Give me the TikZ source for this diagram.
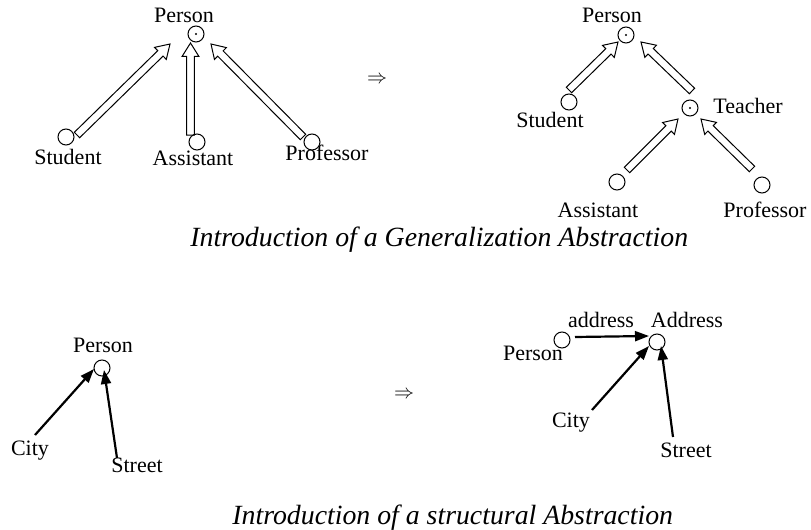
\documentclass[tikz,border=0pt]{standalone}
\usepackage{fontspec}
\setmainfont{Liberation Serif}
\usetikzlibrary{calc,arrows.meta}
\begin{document}
\begin{tikzpicture}[x=0.5pt,y=-0.5pt,
  lbl/.style={font=\fontsize{11}{13}\selectfont, inner sep=0pt, anchor=base},
  capt/.style={font=\fontsize{13.9}{16}\selectfont\itshape, inner sep=0pt, anchor=base west},
  cls/.style={circle, draw, line width=0.5pt, minimum size=8pt, inner sep=0pt},
  agg/.style={cls, path picture={\fill (path picture bounding box.center) circle (0.6pt);}},
  % hollow generalization arrow: closed outline of a shaft with a triangular head
  gen/.style={draw, line width=0.5pt, line join=miter, to path={
    let \p1=(\tikztostart), \p2=(\tikztotarget), \p3=($(\p2)!6.7pt!(\p1)$) in
    ($(\p1)!1.9pt!90:(\p2)$) -- ($(\p3)!1.9pt!90:(\p2)$) -- ($(\p3)!4.2pt!90:(\p2)$)
    -- (\p2) -- ($(\p3)!4.2pt!-90:(\p2)$) -- ($(\p3)!1.9pt!-90:(\p2)$)
    -- ($(\p1)!1.9pt!-90:(\p2)$) -- cycle}},
  att/.style={line width=1.1pt, -{Triangle[length=7pt,width=5pt]}},
  impl/.style={font=\fontsize{10}{12}\selectfont, inner sep=0pt},
]
\useasboundingbox (0,0) rectangle (811,530);

% ---- generalization, before ----
\node[agg] (p1) at (196,34) {};
\node[cls] (s1) at (66,137) {};
\node[cls] (a1) at (197,142) {};
\node[cls] (r1) at (312,142) {};
\node[lbl] (lp1) at (184,23) {Person};
\node[lbl] (ls1) at (68,164) {Student};
\node[lbl] (la1) at (193,165) {Assistant};
\node[lbl] (lr1) at (327,161) {Professor};
\draw[gen] ([shift={(11,-2)}]s1.center) to ([shift={(-26,10)}]p1.center);
\draw[gen] ([shift={(-6.5,-7)}]a1.center) to ([shift={(-5.5,9)}]p1.center);
\draw[gen] ([shift={(-9,-5)}]r1.center) to ([shift={(15,10)}]p1.center);

\node[impl] (i1) at (377,80) {$\Rightarrow$};

% ---- generalization, after ----
\node[agg] (p2) at (626,35) {};
\node[cls] (s2) at (569,102) {};
\node[agg] (t2) at (690,108) {};
\node[cls] (a2) at (617,182) {};
\node[cls] (r2) at (762,185) {};
\node[lbl] (lp2) at (612,23) {Person};
\node[lbl] (ls2) at (550,127) {Student};
\node[lbl] (lt2) at (748,113) {Teacher};
\node[lbl] (la2) at (598,218) {Assistant};
\node[lbl] (lr2) at (765,218) {Professor};
\draw[gen] ([shift={(0,-12)}]s2.center) to ([shift={(-8,7)}]p2.center);
\draw[gen] ([shift={(2,-17)}]t2.center) to ([shift={(15,7)}]p2.center);
\draw[gen] ([shift={(10,-12)}]a2.center) to ([shift={(-12,11)}]t2.center);
\draw[gen] ([shift={(-10,-16)}]r2.center) to ([shift={(11,11)}]t2.center);

\node[capt] (c1) at (190,247) {Introduction of a Generalization Abstraction};

% ---- structure, before ----
\node[cls] (p3) at (102,368) {};
\node[lbl] (lp3) at (103,352) {Person};
\node[lbl] (lc3) at (30,455) {City};
\node[lbl] (ls3) at (137,473) {Street};
\draw[att] ([shift={(5,-20)}]lc3.base) -- ([shift={(-8,1)}]p3.center);
\draw[att] ([shift={(-20,-15)}]ls3.base) -- ([shift={(2,2)}]p3.center);

\node[impl] (i2) at (404,395) {$\Rightarrow$};

% ---- structure, after ----
\node[cls] (p4) at (562,340) {};
\node[cls] (ad) at (657,342) {};
\node[lbl] (lp4) at (533,360) {Person};
\node[lbl] (lad) at (687,328) {Address};
\node[lbl] (lrel) at (601,328) {address};
\node[lbl] (lc4) at (571,428) {City};
\node[lbl] (ls4) at (686,458) {Street};
\draw[att] ([shift={(13,-3)}]p4.center) -- ([shift={(-8,-6)}]ad.center);
\draw[att] ([shift={(21,-18)}]lc4.base) -- ([shift={(-8,4)}]ad.center);
\draw[att] ([shift={(-13,-21)}]ls4.base) -- ([shift={(4,4)}]ad.center);

\node[capt] (c2) at (232,524) {Introduction of a structural Abstraction};
\end{tikzpicture}
\end{document}
